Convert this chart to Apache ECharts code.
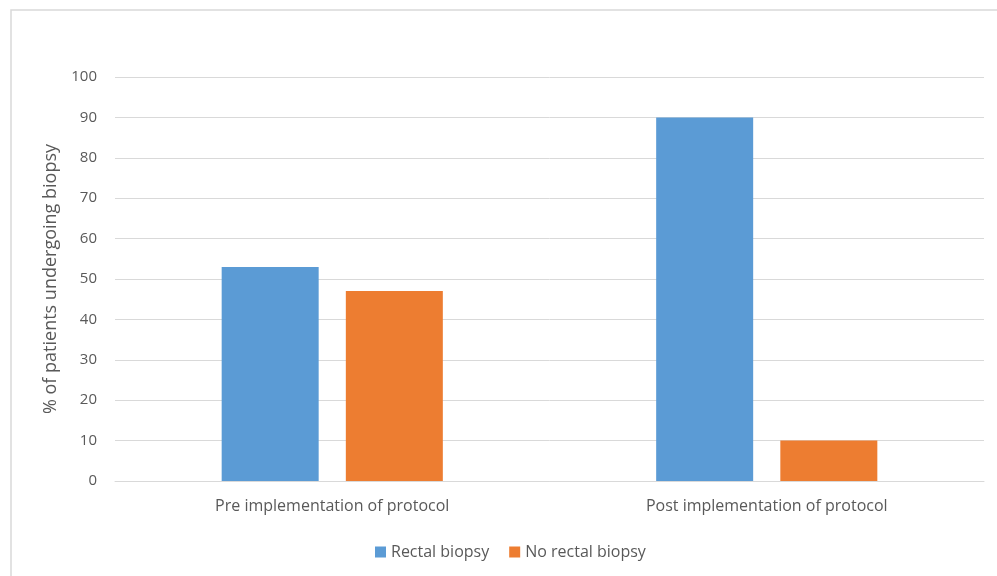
<!DOCTYPE html>
<html>
<head>
<meta charset="utf-8">
<script src="https://cdn.jsdelivr.net/npm/echarts@6/dist/echarts.min.js"></script>
<style>
  html, body { margin: 0; padding: 0; background: #ffffff; }
  #chart { width: 997px; height: 576px; }
</style>
</head>
<body>
<div id="chart"></div>
<script>
const categories = ['Pre implementation of protocol', 'Post implementation of protocol'];
const rectalBiopsy = [53, 90];
const noRectalBiopsy = [47, 10];
const seriesNames = ['Rectal biopsy', 'No rectal biopsy'];
const yAxisTitle = '% of patients undergoing biopsy';

const FONT = '"Open Sans", "Liberation Sans", sans-serif';
const chart = echarts.init(document.getElementById('chart'));

chart.setOption({
  backgroundColor: '#ffffff',
  animation: false,
  textStyle: { fontFamily: FONT },
  graphic: [{
    type: 'rect',
    shape: { x: 11, y: 10, width: 1000, height: 600 },
    style: { fill: 'none', stroke: '#d9d9d9', lineWidth: 1.5 },
    silent: true, z: -1
  }],
  grid: { left: 115, right: 13, top: 77, bottom: 95 },
  legend: {
    data: seriesNames,
    left: 370,
    top: 539,
    itemWidth: 11,
    itemHeight: 11,
    itemGap: 20,
    icon: 'rect',
    textStyle: { color: '#595959', fontSize: 16, fontFamily: FONT }
  },
  xAxis: {
    type: 'category',
    data: categories,
    axisLine: { lineStyle: { color: '#d9d9d9', width: 1 } },
    axisTick: { show: false },
    axisLabel: { color: '#595959', fontSize: 16, margin: 17, fontFamily: FONT }
  },
  yAxis: {
    type: 'value',
    min: 0,
    max: 100,
    interval: 10,
    name: yAxisTitle,
    nameLocation: 'middle',
    nameRotate: 90,
    nameGap: 54,
    nameTextStyle: { color: '#595959', fontSize: 18, fontFamily: FONT },
    axisLine: { show: false },
    axisTick: { show: false },
    axisLabel: { color: '#595959', fontSize: 15, margin: 18, fontFamily: FONT },
    splitLine: { lineStyle: { color: '#d9d9d9', width: 1 } }
  },
  series: [
    {
      name: seriesNames[0],
      type: 'bar',
      data: rectalBiopsy,
      barWidth: 97,
      barGap: '28%',
      itemStyle: { color: '#5b9bd5' }
    },
    {
      name: seriesNames[1],
      type: 'bar',
      data: noRectalBiopsy,
      barWidth: 97,
      barGap: '28%',
      itemStyle: { color: '#ed7d31' }
    }
  ]
});
</script>
</body>
</html>
